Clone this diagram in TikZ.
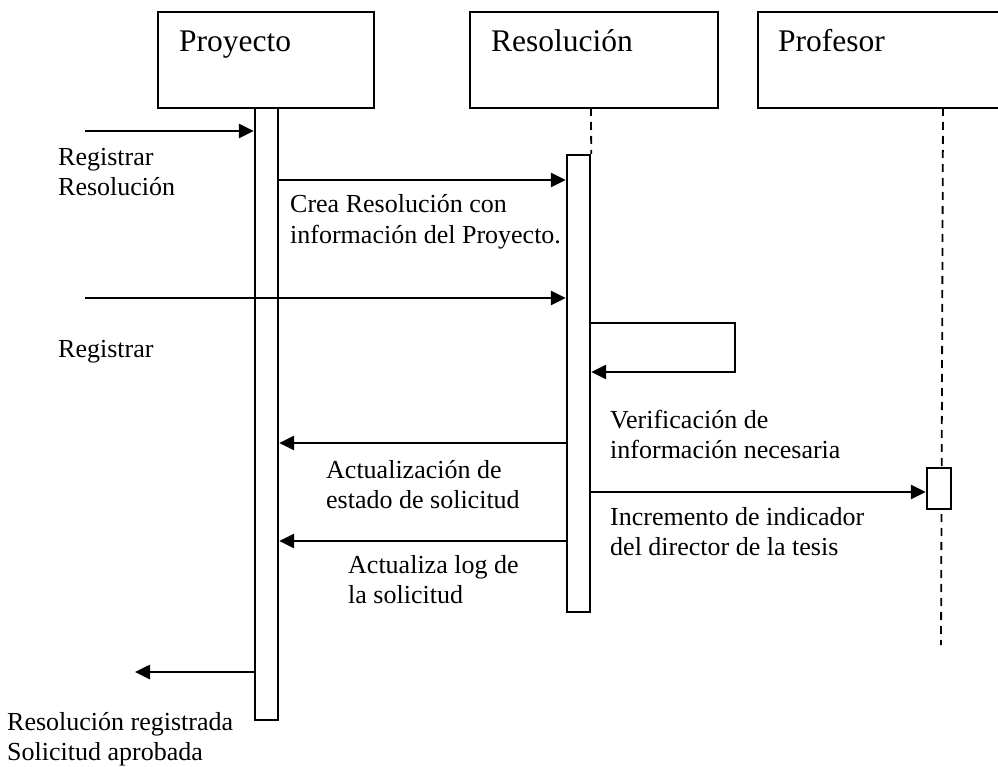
\documentclass[tikz,border=0pt]{standalone}
\usepackage{fontspec}
\setmainfont{Liberation Serif}
\usetikzlibrary{arrows.meta}
\begin{document}
\begin{tikzpicture}[x=1pt,y=-1pt,
  box/.style={draw,line width=2.4pt,rectangle,inner sep=0pt},
  actbar/.style={draw,line width=2.4pt,fill=white,rectangle,inner sep=0pt},
  lifeline/.style={line width=1.8pt,dash pattern=on 8pt off 6pt},
  msg/.style={line width=2.6pt,-{Triangle[length=15pt,width=14pt]}},
  title/.style={anchor=base west,inner sep=0pt,font=\fontsize{31.5}{36}\selectfont},
  lbl/.style={anchor=base west,inner sep=0pt,align=left,font=\fontsize{26}{30.5}\selectfont}]
\useasboundingbox (0,0) rectangle (998,767);
\clip (0,0) rectangle (998,767);
% lifeline heads
\node[box,minimum width=216pt,minimum height=96pt] (proy) at (266,60) {};
\node[box,minimum width=248pt,minimum height=96pt] (reso) at (594,60) {};
\node[box,minimum width=252pt,minimum height=96pt] (prof) at (884,60) {};
\node[title] (tproy) at (179,52) {Proyecto};
\node[title] (treso) at (491,52) {Resolución};
\node[title] (tprof) at (778,52) {Profesor};
% activation bars
\node[actbar,minimum width=23pt,minimum height=612pt] (act1) at (266.5,414) {};
\node[actbar,minimum width=23pt,minimum height=457pt] (act2) at (578.5,383.5) {};
% dashed lifelines
\coordinate (rtop) at (591,108);
\coordinate (ptop) at (943,108);
\coordinate (pend) at (941,645);
\draw[lifeline] (rtop) -- (act2.north east);
\draw[lifeline] (ptop) -- (pend);
\node[actbar,minimum width=24pt,minimum height=41pt] (act3) at (939,488.5) {};
% messages
\coordinate (in1) at (85,131);
\draw[msg] (in1) -- (act1.west |- in1);
\coordinate (m2) at (278,180);
\draw[msg] (act1.east |- m2) -- (act2.west |- m2);
\coordinate (in3) at (85,298);
\draw[msg] (in3) -- (act2.west |- in3);
\coordinate (s1) at (735,323);
\coordinate (s2) at (735,372);
\draw[msg] (act2.east |- s1) -- (s1) -- (s2) -- (act2.east |- s2);
\coordinate (m5) at (567,443);
\draw[msg] (act2.west |- m5) -- (act1.east |- m5);
\coordinate (m6) at (590,492);
\draw[msg] (act2.east |- m6) -- (act3.west |- m6);
\coordinate (m7) at (567,541);
\draw[msg] (act2.west |- m7) -- (act1.east |- m7);
\coordinate (out8) at (135,672);
\draw[msg] (act1.west |- out8) -- (out8);
% labels (base = baseline of last line)
\node[lbl] (l1) at (58,196) {Registrar\\Resolución};
\node[lbl] (l2) at (290,243.5) {Crea Resolución con\\información del Proyecto.};
\node[lbl] (l3) at (58,357) {Registrar};
\node[lbl] (l4) at (610,458.5) {Verificación de\\información necesaria};
\node[lbl] (l5) at (326,508.5) {Actualización de\\estado de solicitud};
\node[lbl] (l6) at (610,555.5) {Incremento de indicador\\del director de la tesis};
\node[lbl] (l7) at (348,603.5) {Actualiza log de\\la solicitud};
\node[lbl] (l8) at (7,760.5) {Resolución registrada\\Solicitud aprobada};
\end{tikzpicture}
\end{document}
